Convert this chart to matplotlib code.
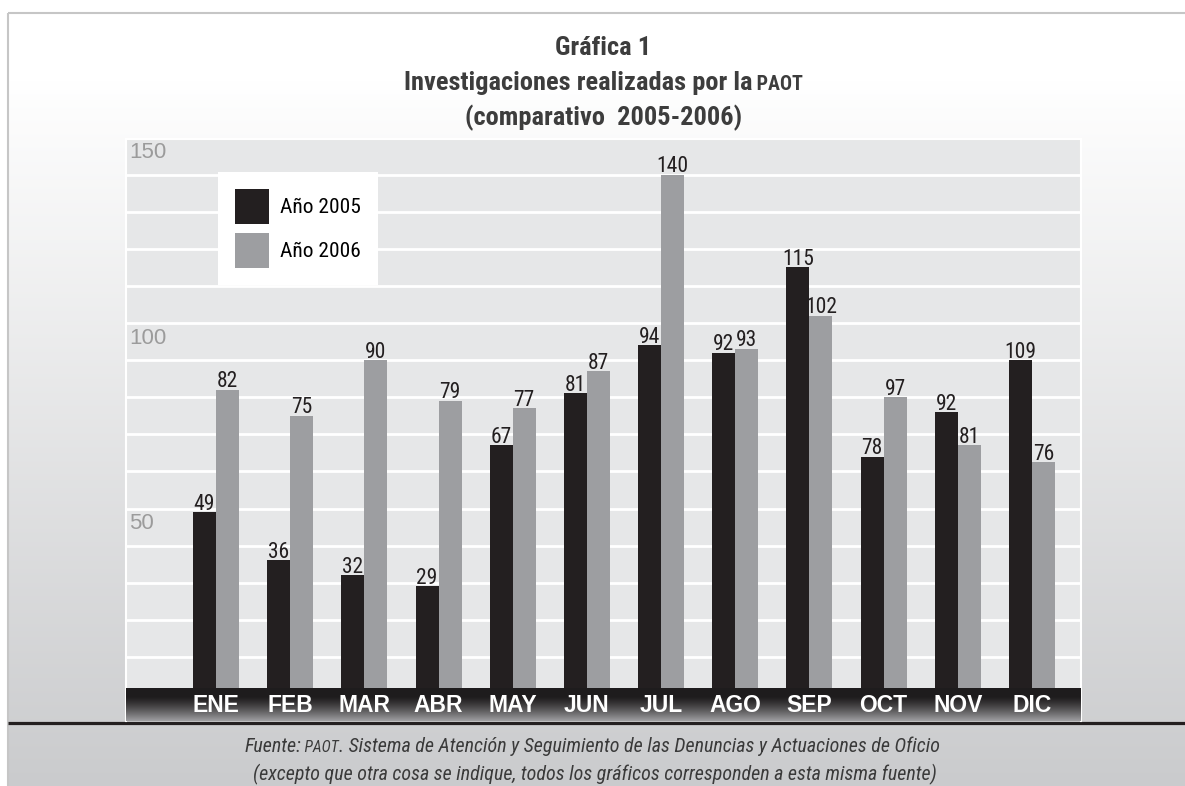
import matplotlib
matplotlib.use('Agg')
import matplotlib.pyplot as plt
import numpy as np
from matplotlib import font_manager
from matplotlib.transforms import IdentityTransform, blended_transform_factory

months = ['ENE', 'FEB', 'MAR', 'ABR', 'MAY', 'JUN', 'JUL', 'AGO', 'SEP', 'OCT', 'NOV', 'DIC']
# printed values
values_2005 = [49, 36, 32, 29, 67, 81, 94, 92, 115, 78, 92, 109]
values_2006 = [82, 75, 90, 79, 77, 87, 140, 93, 102, 97, 81, 76]
# bar heights as drawn in the original (OCT-DIC are drawn shorter than their labels)
heights_2005 = [49, 36, 32, 29, 67, 81, 94, 92, 115, 64, 76, 90]
heights_2006 = [82, 75, 90, 79, 77, 87, 140, 93, 102, 80, 67, 62.5]
series_names = ['Año 2005', 'Año 2006']
axis_labels = [50, 100, 150]
grid_values = list(range(10, 150, 10))

# pick a narrow sans if one is installed
fonts = font_manager.fontManager.ttflist
names = {f.name for f in fonts}
narrow_name, narrow_stretch, narrow_scale = None, 'normal', 1.0
for cand in ['Liberation Sans Narrow', 'Roboto Condensed', 'Open Sans Condensed',
             'Noto Sans Condensed', 'DejaVu Sans Condensed', 'Arial Narrow']:
    if cand in names:
        narrow_name = cand
        break
if narrow_name is None:
    cond = [f for f in fonts if 'condensed' in str(f.stretch) or 'Narrow' in f.name
            or 'Condensed' in f.name]
    if cond:
        narrow_name, narrow_stretch = cond[0].name, cond[0].stretch
    else:
        narrow_name, narrow_scale = 'Liberation Sans', 0.88
NARROW = [narrow_name, 'DejaVu Sans']
WIDE = ['Liberation Sans', 'DejaVu Sans']
W, H = 1185, 786

fig = plt.figure(figsize=(W / 100, H / 100), dpi=100)
fig.patch.set_facecolor('white')

# page background: white fading to light grey, with thin grey frame
bg = fig.add_axes([0, 0, 1, 1], zorder=0)
rows = np.arange(13, H)
t = np.clip((rows - 80) / 706.0, 0, 1)[:, None]
top_c = np.array([1.0, 1.0, 1.0])
bot_c = np.array([202, 203, 205]) / 255.0
img = (1 - t) * top_c + t * bot_c
bg.imshow(img[:, None, :], extent=(8, W, H, 13), aspect='auto', origin='upper')
bg.plot([8, 8], [13, H], color='#c6c6c6', lw=1.5, solid_capstyle='butt')
bg.plot([8, W], [13, 13], color='#c6c6c6', lw=1.5, solid_capstyle='butt')
bg.plot([8, W], [722.5, 722.5], color='#231f20', lw=2.3, solid_capstyle='butt')
bg.set_xlim(0, W)
bg.set_ylim(H, 0)
bg.axis('off')

# plot area
ax = fig.add_axes([126 / W, 1 - 721 / H, (1081 - 126) / W, (721 - 139) / H], zorder=1)
ax.set_facecolor('#e6e7e8')
x = np.arange(len(months))
width = 0.31

b1 = ax.bar(x - width / 2, heights_2005, width, color='#231f20', label=series_names[0], zorder=2)
b2 = ax.bar(x + width / 2, heights_2006, width, color='#9d9ea1', label=series_names[1], zorder=2)

for rects, labels in ((b1, values_2005), (b2, values_2006)):
    for rect, lab in zip(rects, labels):
        ax.annotate(str(lab), xy=(rect.get_x() + rect.get_width() / 2, rect.get_height()),
                    xytext=(0, 1.8), textcoords='offset points', ha='center', va='baseline',
                    fontsize=15.5 * narrow_scale, family=NARROW, stretch=narrow_stretch,
                    color='#231f20', zorder=4)

xlim = (-1.213, 11.66)
ylim = (-7.28, 149.6)

# dark band holding the month names
band_t = np.linspace(0, 1, 60)[:, None]
dark = np.array([0.12, 0.11, 0.115])
light = np.array([0.62, 0.62, 0.63])
band = dark + (light - dark) * np.clip((band_t - 0.25) / 0.75, 0, 1) ** 1.3
ax.imshow(band[:, None, :], extent=(xlim[0], xlim[1], ylim[0], 1.5), aspect='auto',
          origin='upper', zorder=3)
for i, m in enumerate(months):
    ax.text(x[i], -4.93, m, ha='center', va='baseline', color='white', fontsize=16.5,
            fontweight='bold', family=WIDE, zorder=4)

ax.set_xlim(*xlim)
ax.set_ylim(*ylim)
ax.set_yticks(grid_values)
ax.yaxis.grid(True, color='white', lw=2.0)
ax.set_axisbelow(True)
ax.tick_params(left=False, bottom=False, labelleft=False, labelbottom=False)
for s in ['left', 'top', 'right']:
    ax.spines[s].set_color('white')
    ax.spines[s].set_linewidth(1.5)
ax.spines['bottom'].set_visible(False)

tr = blended_transform_factory(ax.transAxes, ax.transData)
for v in axis_labels:
    ax.text(0.003, v - 1.3, str(v), transform=tr, ha='left', va='top', color='#9b9b9b',
            fontsize=16, family=WIDE)

leg = ax.legend(loc='upper left', bbox_to_anchor=(92 / 955, 549 / 582), borderaxespad=0,
                frameon=True, fancybox=False, framealpha=1, edgecolor='none', facecolor='white',
                prop={'family': NARROW, 'size': 15.4 * narrow_scale, 'stretch': narrow_stretch},
                handlelength=1.6 / narrow_scale, handleheight=2.1 / narrow_scale,
                labelspacing=0.45 / narrow_scale, handletextpad=0.5 / narrow_scale,
                borderpad=0.8 / narrow_scale)
leg.set_zorder(5)

renderer = fig.canvas.get_renderer()


def centered_line(pieces, cx, baseline_px, **kw):
    y = H - baseline_px
    texts = []
    xpos = 0
    for s, size in pieces:
        tx = fig.text(xpos, y, s, fontsize=size, transform=IdentityTransform(),
                      ha='left', va='baseline', **kw)
        w = tx.get_window_extent(renderer).width
        texts.append((tx, xpos))
        xpos += w
    shift = cx - xpos / 2
    for tx, x0 in texts:
        tx.set_x(x0 + shift)


ts = 19 * narrow_scale
title_kw = dict(family=NARROW, fontweight='bold', stretch=narrow_stretch, color='#3d3d3d')
centered_line([('Gráfica 1', ts)], 603.5, 55, **title_kw)
centered_line([('Investigaciones realizadas por la', ts), (' PAOT', ts * 0.76)], 603.5, 90, **title_kw)
centered_line([('(comparativo  2005-2006)', ts)], 603.5, 125, **title_kw)

fs = 14.4 * narrow_scale
foot_kw = dict(family=NARROW, style='italic', stretch=narrow_stretch, color='#3a3a3a')
centered_line([('Fuente:', fs), (' PAOT', fs * 0.78),
               ('. Sistema de Atención y Seguimiento de las Denuncias y Actuaciones de Oficio', fs)],
              592, 752, **foot_kw)
centered_line([('(excepto que otra cosa se indique, todos los gráficos corresponden a esta misma fuente)', fs)],
              595, 780, **foot_kw)

fig.savefig('out.png', dpi=100)
